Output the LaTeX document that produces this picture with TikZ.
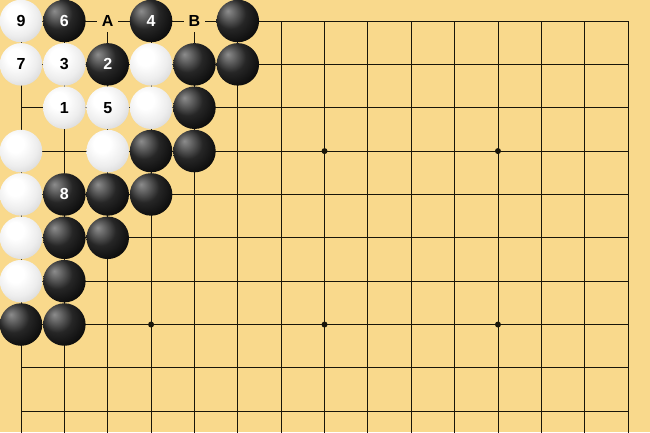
\documentclass[tikz,border=0pt]{standalone}
\usepackage{fontspec}
\setmainfont{Liberation Sans}
\newfontfamily\stonefont{Liberation Sans Bold}
\definecolor{boardbg}{RGB}{249,217,140}
\definecolor{gridcol}{RGB}{25,22,10}
\pgfdeclareradialshading{wstone}{\pgfpoint{-8bp}{10bp}}{color(0bp)=(white); color(10bp)=(white); color(24bp)=(black!7); color(36bp)=(black!17); color(48bp)=(black!30); color(60bp)=(black!44); color(66bp)=(black!50)}
\pgfdeclareradialshading{bstone}{\pgfpoint{-12bp}{12bp}}{color(0bp)=(black!45); color(6bp)=(black!58); color(18bp)=(black!85); color(35bp)=(black!97); color(52bp)=(black); color(64bp)=(black!80)}
\tikzset{
  gridline/.style={draw=gridcol, line width=0.9pt},
  stonebase/.style={circle, minimum size=42.5pt, inner sep=0pt, font=\stonefont\fontsize{16}{16}\selectfont},
  wst/.style={stonebase, shading=wstone, text=black},
  bst/.style={stonebase, shading=bstone, text=white},
  lbl/.style={fill=boardbg, inner sep=0pt, minimum width=21pt, minimum height=22pt, font=\stonefont\fontsize{16}{16}\selectfont, text=black},
  star/.style={circle, fill=gridcol, inner sep=0pt, minimum size=6pt}
}
\begin{document}
\begin{tikzpicture}[x=43.36pt, y=-43.36pt]
\useasboundingbox (-21pt,21pt) rectangle (629pt,-411pt);
\fill[boardbg] (-21pt,21pt) rectangle (629pt,-411pt);
\foreach \i in {0,...,14} \draw[gridline] (\i,0) -- (\i,9.6);
\foreach \j in {0,...,9} \draw[gridline] (0,\j) -- (14,\j);
\foreach \a/\b [count=\k] in {3/3,7/3,11/3,3/7,7/7,11/7} \node[star] (star\k) at (\a,\b) {};
% labels
\node[lbl] (A) at (2,0) {A};
\node[lbl] (B) at (4,0) {B};
% white stones
\node[wst] (w9) at (0,0) {9};
\node[wst] (w7) at (0,1) {7};
\node[wst] (w3) at (1,1) {3};
\node[wst] (w31) at (3,1) {};
\node[wst] (w1) at (1,2) {1};
\node[wst] (w5) at (2,2) {5};
\node[wst] (w32) at (3,2) {};
\node[wst] (w03) at (0,3) {};
\node[wst] (w23) at (2,3) {};
\node[wst] (w04) at (0,4) {};
\node[wst] (w05) at (0,5) {};
\node[wst] (w06) at (0,6) {};
% black stones
\node[bst] (b6) at (1,0) {6};
\node[bst] (b4) at (3,0) {4};
\node[bst] (b50) at (5,0) {};
\node[bst] (b2) at (2,1) {2};
\node[bst] (b41) at (4,1) {};
\node[bst] (b51) at (5,1) {};
\node[bst] (b42) at (4,2) {};
\node[bst] (b33) at (3,3) {};
\node[bst] (b43) at (4,3) {};
\node[bst] (b8) at (1,4) {8};
\node[bst] (b24) at (2,4) {};
\node[bst] (b34) at (3,4) {};
\node[bst] (b15) at (1,5) {};
\node[bst] (b25) at (2,5) {};
\node[bst] (b16) at (1,6) {};
\node[bst] (b07) at (0,7) {};
\node[bst] (b17) at (1,7) {};
\end{tikzpicture}
\end{document}
